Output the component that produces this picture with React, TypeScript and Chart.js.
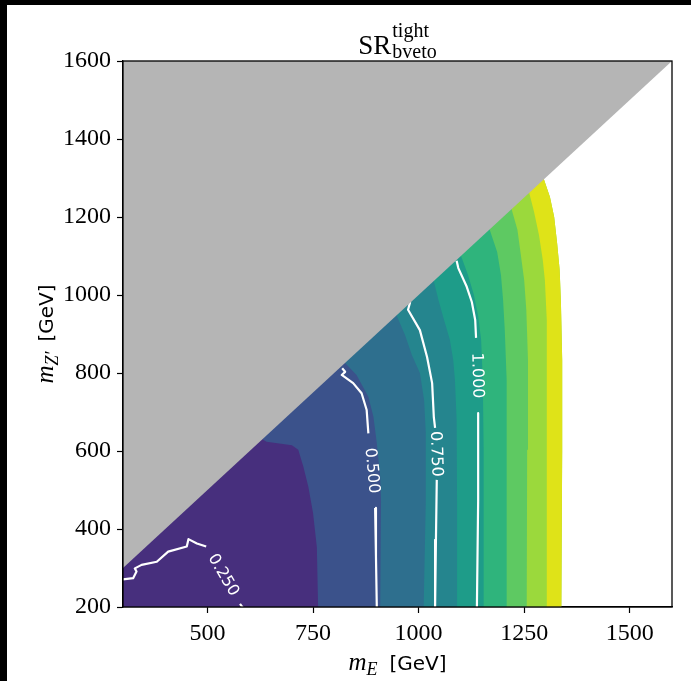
import React, { useEffect, useRef } from "react";
import { Chart, registerables } from "chart.js";

Chart.register(...registerables);

// ---- axes ----
const xRange = [300, 1600];
const yRange = [200, 1600];
const xTicks = [500, 750, 1000, 1250, 1500];
const yTicks = [200, 400, 600, 800, 1000, 1200, 1400, 1600];

// ---- filled contour band edges (m_E, m_Z'), bottom -> diagonal ----
const edge0 = [[300, 200], [300, 320]];
const edge1 = [[762, 200], [759, 354], [750, 441], [739, 508], [727, 560], [715, 603], [700, 615], [640, 624], [615, 640]];
const edge2 = [[909, 200], [911, 474], [909, 534], [901, 620], [893, 688], [881, 739], [853, 795], [822, 830]];
const edge3 = [[1012, 200], [1017, 474], [1017, 646], [1013, 731], [1003, 800], [984, 846], [968, 897], [945, 955]];
const edge4 = [[1091, 200], [1091, 474], [1090, 680], [1086, 782], [1082, 833], [1074, 885], [1058, 944], [1047, 987], [1035, 1040]];
const edge5 = [[1154, 200], [1154, 603], [1152, 782], [1148, 885], [1141, 946], [1131, 1000], [1117, 1051], [1097, 1110]];
const edge6 = [[1209, 200], [1209, 603], [1208, 782], [1204, 910], [1200, 987], [1195, 1051], [1186, 1110], [1166, 1175]];
const edge7 = [[1256, 200], [1257, 603], [1259, 833], [1255, 962], [1250, 1038], [1242, 1103], [1234, 1167], [1218, 1228]];
const edge8 = [[1304, 200], [1304, 782], [1303, 936], [1299, 1038], [1294, 1090], [1285, 1154], [1273, 1215], [1260, 1270]];
const edgeOuter = [[1338, 200], [1340, 603], [1340, 833], [1337, 980], [1334, 1064], [1328, 1133], [1321, 1200], [1311, 1251], [1294, 1305]];

const bandEdges = [edge0, edge1, edge2, edge3, edge4, edge5, edge6, edge7, edge8];
const bandColors = ["#472f7d", "#3b528b", "#2e6f8e", "#25858e", "#1e9c89", "#2fb47c", "#5ec962", "#9bd93c", "#dfe318"];

// ---- excluded region m_Z' > m_E ----
const maskCorners = [[300, 300], [300, 1600], [1600, 1600]];

// ---- labelled contour lines (segments split at the inline label) ----
const contourLevels = [0.25, 0.5, 0.75, 1.0];
const contour025 = [
  [[300, 271], [324, 274], [332, 291], [328, 299], [344, 308], [380, 316], [407, 342], [451, 355], [455, 374], [475, 363], [497, 355]],
  [[577, 208], [584, 198]],
];
const contour050 = [
  [[819, 812], [826, 803], [818, 795], [845, 774], [865, 748], [877, 705], [881, 645]],
  [[897, 454], [899, 330], [901, 198]],
];
const contour075 = [
  [[980, 982], [975, 962], [1003, 910], [1020, 841], [1032, 774], [1036, 687], [1039, 659]],
  [[1043, 526], [1041, 372], [1039, 198]],
];
const contour100 = [
  [[1090, 1088], [1094, 1069], [1114, 1021], [1126, 982], [1134, 936], [1136, 890]],
  [[1141, 697], [1141, 474], [1138, 198]],
];
const contourLines = [contour025, contour050, contour075, contour100];

const toPts = (arr: number[][]) => arr.map(([x, y]) => ({ x, y }));

type Part = { t: string; font: string; dy: number; gap?: number };

function drawParts(ctx: CanvasRenderingContext2D, parts: Part[], cx: number, baseline: number) {
  let total = 0;
  const widths = parts.map((p) => {
    ctx.font = p.font;
    const w = ctx.measureText(p.t).width + (p.gap || 0);
    total += w;
    return w;
  });
  let x = cx - total / 2;
  ctx.textAlign = "left";
  ctx.textBaseline = "alphabetic";
  parts.forEach((p, i) => {
    ctx.font = p.font;
    ctx.fillText(p.t, x + (p.gap || 0), baseline + p.dy);
    x += widths[i];
  });
}

const decorPlugin = {
  id: "decor",
  afterDatasetsDraw(chart: any) {
    const ctx: CanvasRenderingContext2D = chart.ctx;
    const xs = chart.scales.x;
    const ys = chart.scales.y;
    const a = chart.chartArea;
    // contour labels
    ctx.save();
    ctx.fillStyle = "#ffffff";
    ctx.font = '16px "DejaVu Sans"';
    ctx.textAlign = "center";
    ctx.textBaseline = "middle";
    contourLines.forEach((segs, i) => {
      const p = segs[0][segs[0].length - 1];
      const q = segs[1][0];
      const px = xs.getPixelForValue(p[0]);
      const py = ys.getPixelForValue(p[1]);
      const qx = xs.getPixelForValue(q[0]);
      const qy = ys.getPixelForValue(q[1]);
      let ang = Math.atan2(qy - py, qx - px);
      if (ang > Math.PI / 2) ang -= Math.PI;
      if (ang < -Math.PI / 2) ang += Math.PI;
      ctx.save();
      ctx.translate((px + qx) / 2, (py + qy) / 2);
      ctx.rotate(ang);
      ctx.fillText(contourLevels[i].toFixed(3), 0, 0);
      ctx.restore();
    });
    ctx.restore();
    // frame
    ctx.save();
    ctx.strokeStyle = "#000";
    ctx.lineWidth = 1.3;
    ctx.strokeRect(a.left, a.top, a.right - a.left, a.bottom - a.top);
    ctx.restore();
  },
  afterDraw(chart: any) {
    const ctx: CanvasRenderingContext2D = chart.ctx;
    const a = chart.chartArea;
    const cx = (a.left + a.right) / 2;
    const cy = (a.top + a.bottom) / 2;
    ctx.save();
    ctx.fillStyle = "#000";
    // title SR^{tight}_{bveto}
    const bigFont = '27px "Liberation Serif"';
    const smallFont = '20px "Liberation Serif"';
    ctx.font = bigFont;
    const wSR = ctx.measureText("SR").width;
    ctx.font = smallFont;
    const wSc = Math.max(ctx.measureText("tight").width, ctx.measureText("bveto").width);
    const left = cx - (wSR + 1 + wSc) / 2;
    ctx.textAlign = "left";
    ctx.textBaseline = "alphabetic";
    ctx.font = bigFont;
    ctx.fillText("SR", left, a.top - 7);
    ctx.font = smallFont;
    ctx.fillText("tight", left + wSR + 1, a.top - 24);
    ctx.fillText("bveto", left + wSR + 1, a.top - 3);
    // x label
    drawParts(ctx, [
      { t: "m", font: 'italic 25px "Liberation Serif"', dy: 0 },
      { t: "E", font: 'italic 18px "Liberation Serif"', dy: 5 },
      { t: "[GeV]", font: '20px "DejaVu Sans"', dy: 0, gap: 12 },
    ], cx, a.bottom + 63);
    // y label
    ctx.save();
    ctx.translate(46, cy);
    ctx.rotate(-Math.PI / 2);
    drawParts(ctx, [
      { t: "m", font: 'italic 25px "Liberation Serif"', dy: 0 },
      { t: "Z′", font: 'italic 18px "Liberation Serif"', dy: 5 },
      { t: "[GeV]", font: '20px "DejaVu Sans"', dy: 0, gap: 10 },
    ], 0, 0);
    ctx.restore();
    ctx.restore();
  },
};

export default function App() {
  const ref = useRef<HTMLCanvasElement | null>(null);
  useEffect(() => {
    document.body.style.margin = "0";
    if (!ref.current) return;
    const datasets: any[] = [];
    bandEdges.forEach((edge, k) => {
      // each band reaches two edges further to the right, so the next band's edge sits on solid colour
      const right = k + 2 < bandEdges.length ? bandEdges[k + 2] : edgeOuter;
      datasets.push({
        data: toPts([...edge, ...[...right].reverse()]),
        fill: "shape",
        backgroundColor: bandColors[k],
        borderWidth: 0,
        borderColor: "rgba(0,0,0,0)",
        pointRadius: 0,
        pointHoverRadius: 0,
        order: 100 - k,
      });
    });
    contourLines.forEach((segs) => {
      segs.forEach((seg) => {
        datasets.push({
          data: toPts(seg),
          fill: false,
          borderColor: "#ffffff",
          borderWidth: 2.2,
          borderJoinStyle: "round",
          borderCapStyle: "butt",
          pointRadius: 0,
          pointHoverRadius: 0,
          order: 20,
        });
      });
    });
    datasets.push({
      data: toPts(maskCorners),
      fill: "shape",
      backgroundColor: "#b5b5b5",
      borderWidth: 0,
      borderColor: "rgba(0,0,0,0)",
      pointRadius: 0,
      pointHoverRadius: 0,
      order: 10,
    });

    const tickFont = { family: "Liberation Serif", size: 24 };
    const chart = new Chart(ref.current, {
      type: "line",
      data: { datasets },
      options: {
        responsive: false,
        devicePixelRatio: 1,
        animation: false,
        events: [],
        layout: { padding: { top: 56, right: 19, left: 0, bottom: 0 } },
        plugins: { legend: { display: false }, tooltip: { enabled: false }, title: { display: false } },
        scales: {
          x: {
            type: "linear",
            min: xRange[0],
            max: xRange[1],
            afterBuildTicks: (s: any) => { s.ticks = xTicks.map((v) => ({ value: v })); },
            afterFit: (s: any) => { s.height = 74; },
            ticks: { font: tickFont, color: "#000", padding: 6, maxRotation: 0, autoSkip: false, callback: (v: any) => String(v) },
            grid: { drawOnChartArea: false, drawTicks: true, tickLength: 6, tickColor: "#000", tickWidth: 1.2 },
            border: { display: true, color: "#000", width: 1.3 },
          },
          y: {
            type: "linear",
            min: yRange[0],
            max: yRange[1],
            afterBuildTicks: (s: any) => { s.ticks = yTicks.map((v) => ({ value: v })); },
            afterFit: (s: any) => { s.width = 116; },
            ticks: { font: tickFont, color: "#000", padding: 6, autoSkip: false, callback: (v: any) => String(v) },
            grid: { drawOnChartArea: false, drawTicks: true, tickLength: 6, tickColor: "#000", tickWidth: 1.2 },
            border: { display: true, color: "#000", width: 1.3 },
          },
        },
      } as any,
      plugins: [decorPlugin],
    });
    return () => chart.destroy();
  }, []);

  return (
    <div style={{ position: "fixed", left: 0, top: 0, width: 691, height: 681, background: "#000" }}>
      <div style={{ position: "absolute", left: 7, top: 5, width: 684, height: 676, background: "#fff" }}>
        <canvas ref={ref} width={684} height={676} style={{ display: "block" }} />
      </div>
    </div>
  );
}
